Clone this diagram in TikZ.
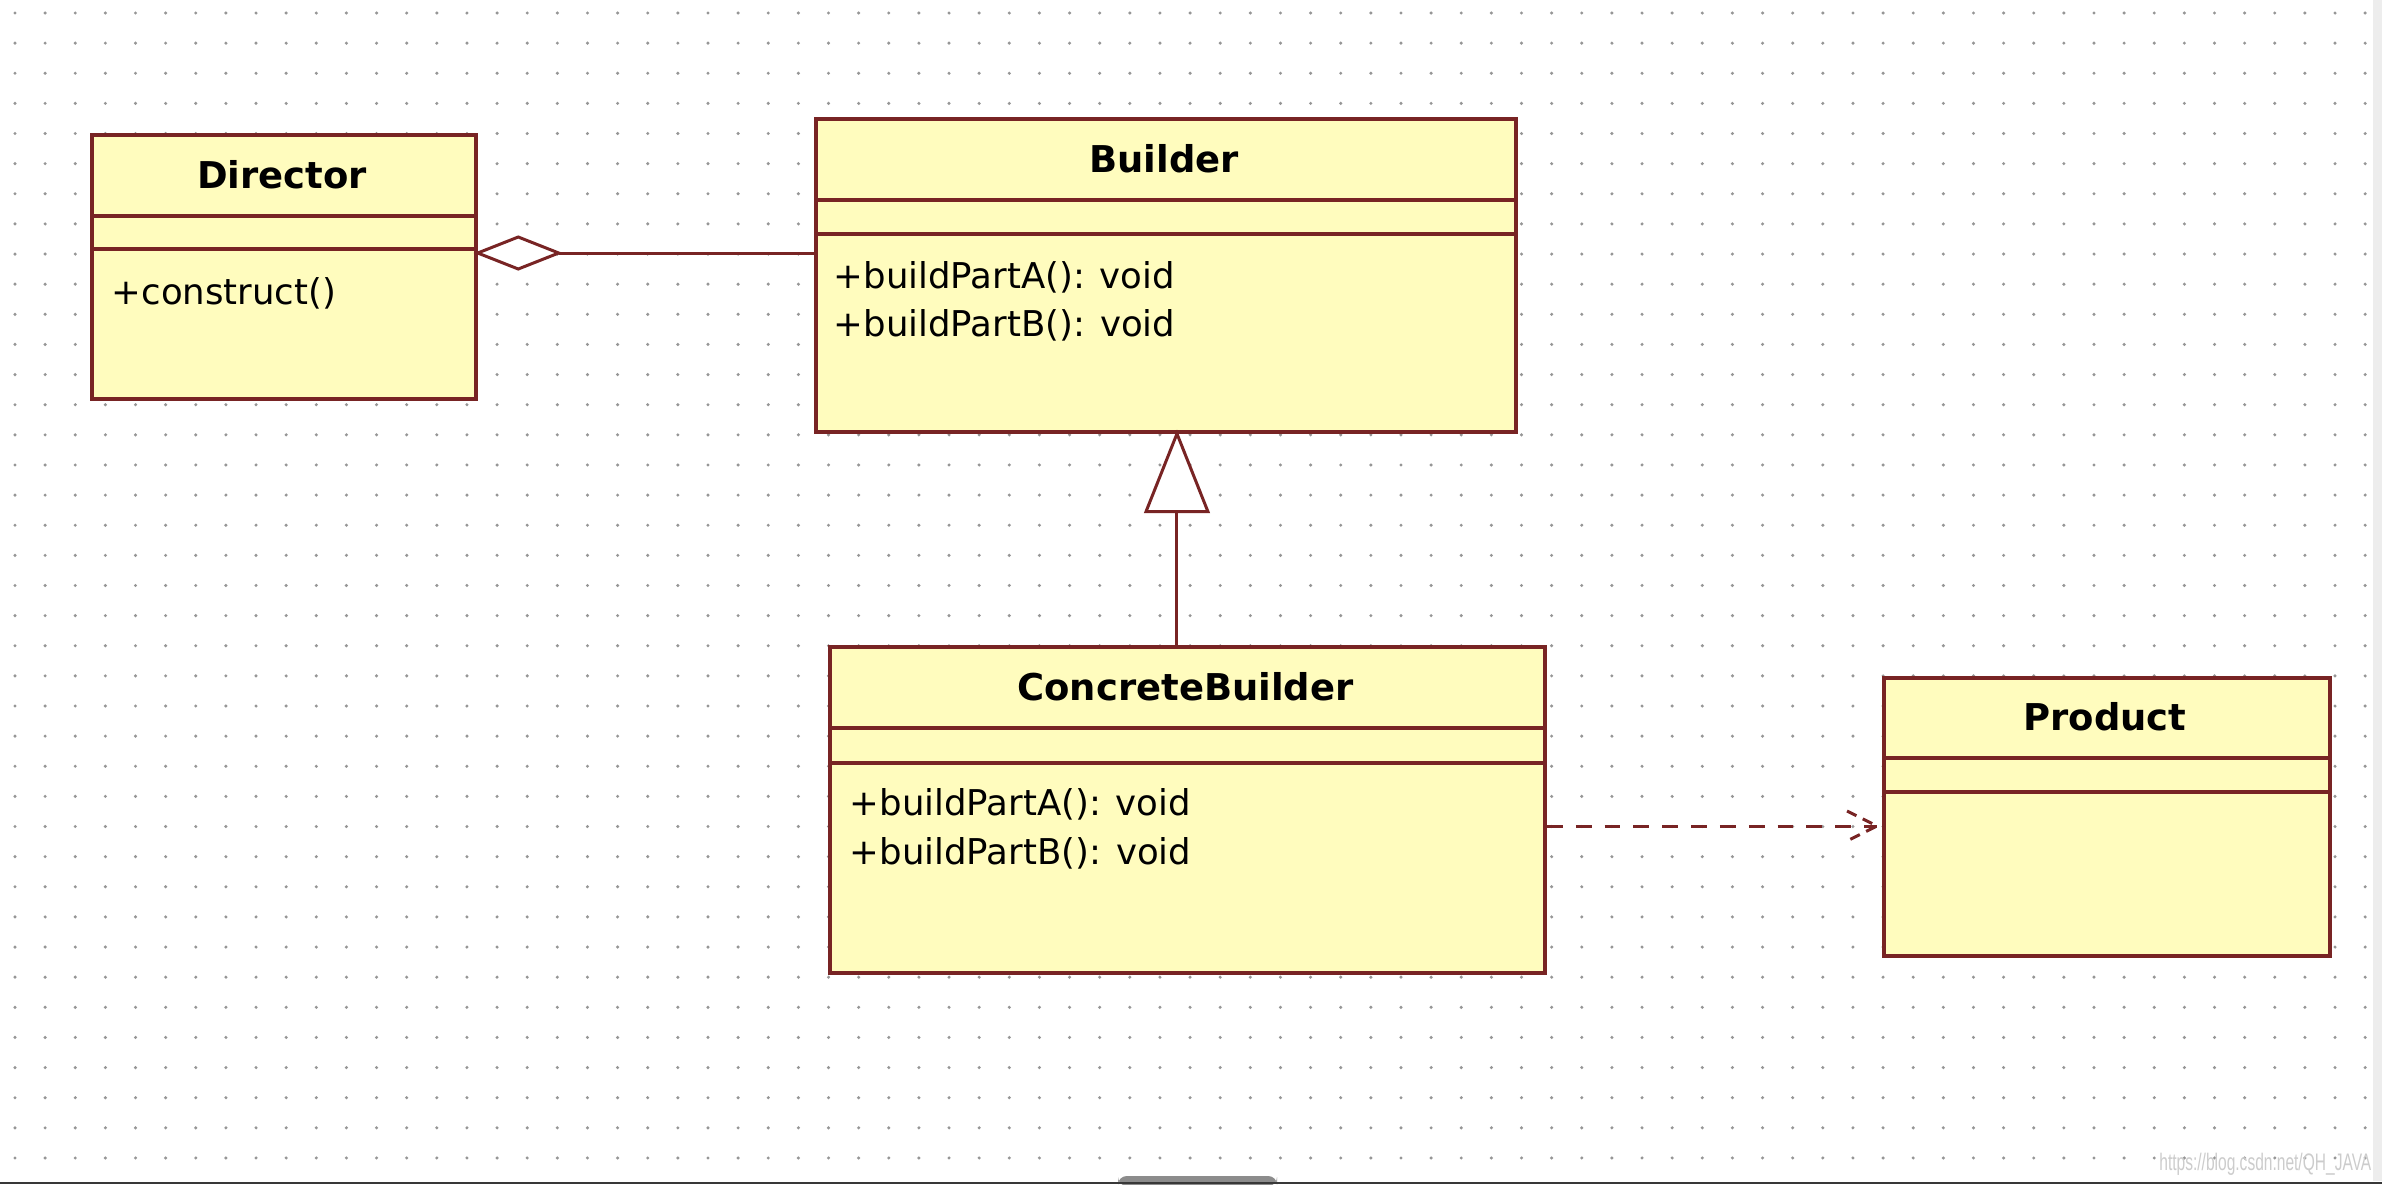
\documentclass[tikz,border=0pt]{standalone}
\usepackage{fontspec}
\setmainfont{DejaVu Sans}
\newfontfamily\wmfont{Liberation Sans}
\usetikzlibrary{calc}
\definecolor{umlline}{RGB}{120,36,36}
\definecolor{umlfill}{RGB}{255,252,190}
\definecolor{dotgray}{RGB}{150,150,150}
\begin{document}
\begin{tikzpicture}[x=0.01cm, y=-0.01cm,
  cls/.style={draw=umlline, fill=umlfill, line width=1pt, rectangle, inner sep=0pt, anchor=north west},
  sepline/.style={draw=umlline, line width=1pt},
  ttl/.style={font=\fontsize{10.5}{12}\selectfont\bfseries, anchor=base, inner sep=0pt, text=black},
  mth/.style={font=\fontsize{10.1}{12}\selectfont, anchor=base west, inner sep=0pt, text=black},
  conn/.style={draw=umlline, line width=0.85pt},
  depline/.style={conn, dash pattern=on 4.5pt off 3.7pt},
  dotc/.style={fill=dotgray}]
\useasboundingbox (0,0) rectangle (2382,1184);
\fill[white] (0,0) rectangle (2382,1184);
% dot grid
\foreach \i in {0,...,78}{\foreach \j in {0,...,38}{\fill[dotc] ({15+30.13*\i},{13+30.13*\j}) circle[radius=0.017cm];}}
% classes
\node[cls, minimum width=3.84cm, minimum height=2.64cm] (dir) at (90,133) {};
\node[cls, minimum width=7.00cm, minimum height=3.13cm] (bld) at (814,117) {};
\node[cls, minimum width=7.15cm, minimum height=3.26cm] (cb) at (828,645) {};
\node[cls, minimum width=4.46cm, minimum height=2.78cm] (prd) at (1882,676) {};
% compartments
\draw[sepline] (dir.west |- 0,216) -- (dir.east |- 0,216);
\draw[sepline] (dir.west |- 0,249) -- (dir.east |- 0,249);
\draw[sepline] (bld.west |- 0,200) -- (bld.east |- 0,200);
\draw[sepline] (bld.west |- 0,234) -- (bld.east |- 0,234);
\draw[sepline] (cb.west |- 0,728) -- (cb.east |- 0,728);
\draw[sepline] (cb.west |- 0,763) -- (cb.east |- 0,763);
\draw[sepline] (prd.west |- 0,758) -- (prd.east |- 0,758);
\draw[sepline] (prd.west |- 0,792) -- (prd.east |- 0,792);
% titles
\node[ttl] (dirT) at (282,188) {Director};
\node[ttl] (bldT) at (1164,172) {Builder};
\node[ttl] (cbT) at (1185.5,700) {ConcreteBuilder};
\node[ttl] (prdT) at (2105,730) {Product};
% operations
\node[mth] (dirM1) at (111,304) {+construct()};
\node[mth] (bldM1) at (833,288) {+buildPartA(): void};
\node[mth] (bldM2) at (833,336) {+buildPartB(): void};
\node[mth] (cbM1) at (849,815) {+buildPartA(): void};
\node[mth] (cbM2) at (849,864) {+buildPartB(): void};
% aggregation Director <>-- Builder
\coordinate (aggA) at (dir.east |- 0,253);
\coordinate (aggB) at (bld.west |- 0,253);
\coordinate (aggC) at ($(aggA)+(81,0)$);
\draw[conn] (aggB) -- (aggC);
\draw[conn, fill=white] (aggA) -- ++(40.5,-16) -- (aggC) -- ++(-40.5,16) -- cycle;
% generalization ConcreteBuilder --|> Builder
\path (bld.south) ++(11,0) coordinate (genTop);
\coordinate (genBase) at ($(genTop)+(0,78)$);
\draw[conn] (genTop |- cb.north) -- (genBase);
\draw[conn, fill=white] (genTop) -- ($(genBase)+(-31,0)$) -- ($(genBase)+(31,0)$) -- cycle;
% dependency ConcreteBuilder ..> Product
\coordinate (depS) at (cb.east |- 0,826);
\coordinate (depT) at ($(prd.west |- 0,826)+(-5,0)$);
\draw[depline] (depS) -- (depT);
\draw[depline, dash pattern=on 3pt off 2pt] ($(depT)+(-30,-15)$) -- (depT) -- ($(depT)+(-30,15)$);
% window chrome
\fill[black!7] (2373,0) rectangle (2382,1181);
\fill[black!45, rounded corners=2.5pt] (1118,1186) -- (1118,1176) -- (1277,1176) -- (1277,1186) -- cycle;
\fill[black!78] (0,1181.5) rectangle (2382,1184);
% watermark
\node[anchor=base east, inner sep=0pt, text=black!20, font=\wmfont\fontsize{6.8}{8}\selectfont] (wm) at (2372,1170) {\scalebox{0.65}[1]{https://blog.csdn.net/QH\_JAVA}};
\end{tikzpicture}
\end{document}
